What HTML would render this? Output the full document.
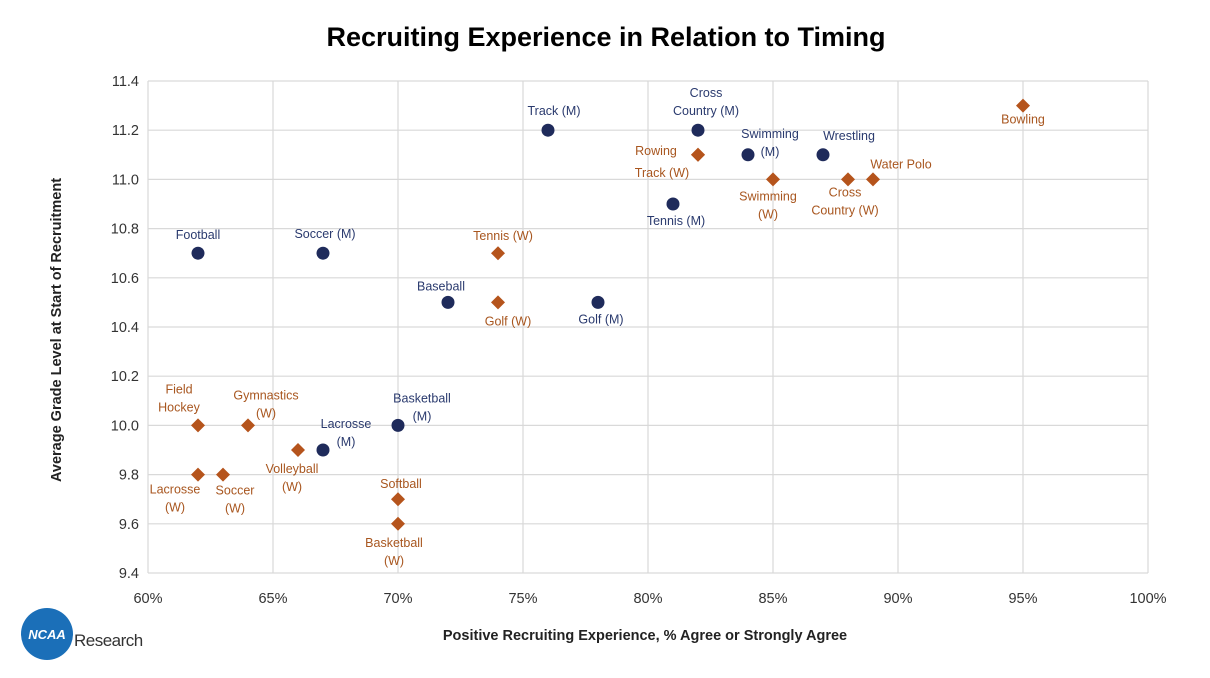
<!DOCTYPE html>
<html><head><meta charset="utf-8"><style>
body{margin:0;background:#fff;font-family:"Liberation Sans",sans-serif;}
svg text{font-family:"Liberation Sans",sans-serif;}
</style></head><body>
<svg id="chart" width="1210" height="673" viewBox="0 0 1210 673" xmlns="http://www.w3.org/2000/svg">
<text x="606" y="46" text-anchor="middle" font-size="27" font-weight="bold" fill="#000">Recruiting Experience in Relation to Timing</text>
<g id="grid"></g><g id="ticks"></g><g id="marks"></g><g id="labels"></g>
<text x="645" y="640" text-anchor="middle" font-size="14.5" font-weight="bold" fill="#222">Positive Recruiting Experience, % Agree or Strongly Agree</text>
<text transform="translate(61,330) rotate(-90)" text-anchor="middle" font-size="14.5" font-weight="bold" fill="#222">Average Grade Level at Start of Recruitment</text>
<g>
<circle cx="47" cy="634" r="26" fill="#1b6fb8"/>
<text x="47" y="639" text-anchor="middle" font-size="13" font-weight="bold" font-style="italic" fill="#fff">NCAA</text>
<text x="74" y="646" font-size="17" fill="#333" letter-spacing="-0.5">Research</text>
</g>
</svg>
<script>
const xTicks=[60,65,70,75,80,85,90,95,100];
const yTicks=[9.4,9.6,9.8,10.0,10.2,10.4,10.6,10.8,11.0,11.2,11.4];
const menNames=["Football","Soccer (M)","Baseball","Track (M)","Golf (M)","Cross|Country (M)","Tennis (M)","Swimming|(M)","Wrestling","Basketball|(M)","Lacrosse|(M)"];
const menX=[62,67,72,76,78,82,81,84,87,70,67];
const menY=[10.7,10.7,10.5,11.2,10.5,11.2,10.9,11.1,11.1,10.0,9.9];
const womenNames=["Bowling","Rowing","Track (W)","Swimming|(W)","Cross|Country (W)","Water Polo","Tennis (W)","Golf (W)","Field|Hockey","Gymnastics|(W)","Volleyball|(W)","Lacrosse|(W)","Soccer|(W)","Softball","Basketball|(W)"];
const womenX=[95,82,82,85,88,89,74,74,62,64,66,62,63,70,70];
const womenY=[11.3,11.1,11.1,11.0,11.0,11.0,10.7,10.5,10.0,10.0,9.9,9.8,9.8,9.7,9.6];
// label offsets (styling only)
const menOff=[[0,-18],[2,-19],[-7,-16],[6,-19],[3,17],[8,-37],[3,17],[22,-21],[26,-19],[24,-27],[23,-26]];
const womenOff=[[0,14],[-42,-4],[-36,18],[-5,17],[-3,13],[28,-15],[5,-17],[10,19],[-19,-36],[18,-30],[-6,19],[-23,15],[12,16],[3,-15],[-4,19]];
const X=v=>148+(v-60)*25, Y=v=>81+(11.4-v)*246;
const NS="http://www.w3.org/2000/svg";
function mk(tag,parent,attrs){const e=document.createElementNS(NS,tag);for(const k in attrs)e.setAttribute(k,attrs[k]);parent.appendChild(e);return e;}
const grid=document.getElementById('grid'),ticks=document.getElementById('ticks'),marks=document.getElementById('marks'),labels=document.getElementById('labels');
yTicks.forEach(t=>{const l=mk('line',grid,{x1:148,x2:1148,y1:Y(t),y2:Y(t),stroke:'#d9d9d9','stroke-width':1.2});


const tx=mk('text',ticks,{x:139,y:Y(t)+5,'text-anchor':'end','font-size':14.5,fill:'#333'});tx.textContent=t.toFixed(1);

});
xTicks.forEach(t=>{const l=mk('line',grid,{x1:X(t),x2:X(t),y1:81,y2:573,stroke:'#d9d9d9','stroke-width':1.2});


const tx=mk('text',ticks,{x:X(t),y:603,'text-anchor':'middle','font-size':14.5,fill:'#333'});tx.textContent=t+'%';

});
function label(name,x,y,off,color){const lines=name.split('|');lines.forEach((s,i)=>{const tx=mk('text',labels,{x:x+off[0],y:y+off[1]+i*18+4,'text-anchor':'middle','font-size':12.5,fill:color});tx.textContent=s;

});}
menX.forEach((v,i)=>{const c=mk('circle',marks,{cx:X(v),cy:Y(menY[i]),r:6.5,fill:'#1f2b5b'});


label(menNames[i],X(v),Y(menY[i]),menOff[i],'#2a3a6e');});
womenX.forEach((v,i)=>{const x=X(v),y=Y(womenY[i]);const p=mk('polygon',marks,{points:`${x},${y-7} ${x+7},${y} ${x},${y+7} ${x-7},${y}`,fill:'#b5541c'});


label(womenNames[i],x,y,womenOff[i],'#a8561f');});
</script>
</body></html>
